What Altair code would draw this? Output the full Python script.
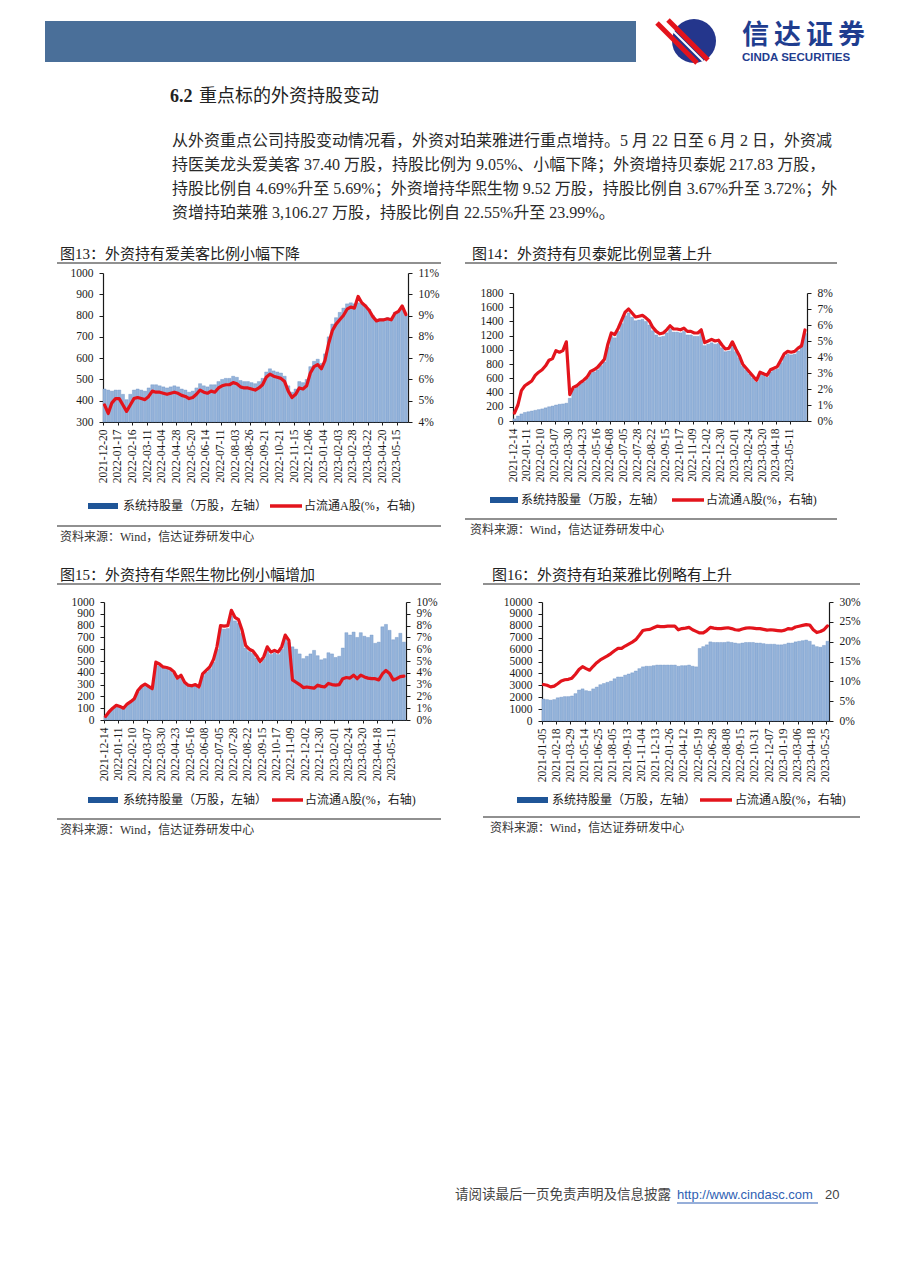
import json
import altair as alt
import pandas as pd

M = 8            # page margin of the html body
W, H = 880, 1215 # whole drawing area


def px(v):
    return v - M


# ---------------------------------------------------------------- data
c13_labels = ["2021-12-20", "2022-01-17", "2022-02-16", "2022-03-11", "2022-04-04", "2022-04-28",
              "2022-05-20", "2022-06-14", "2022-07-11", "2022-08-03", "2022-08-26", "2022-09-21",
              "2022-10-21", "2022-11-15", "2022-12-06", "2023-01-04", "2023-02-03", "2023-02-28",
              "2023-03-22", "2023-04-20", "2023-05-15"]
c13_bar = [455, 450, 445, 450, 450, 430, 405, 430, 450, 455,
           450, 445, 460, 475, 475, 470, 465, 460, 465, 470,
           465, 455, 450, 440, 445, 460, 480, 470, 465, 475,
           475, 490, 500, 505, 505, 515, 510, 495, 490, 490,
           485, 480, 490, 505, 535, 550, 540, 535, 530, 515,
           470, 440, 455, 490, 485, 500, 560, 585, 595, 575,
           620, 700, 760, 790, 815, 835, 855, 860, 855, 860,
           855, 850, 830, 800, 780, 785, 785, 790, 785, 815,
           820, 830, 800]
c13_pct = [4.8, 4.4, 4.9, 5.1, 5.1, 4.8, 4.5, 4.8, 5.1, 5.15,
           5.1, 5.05, 5.2, 5.45, 5.4, 5.4, 5.35, 5.3, 5.35, 5.4,
           5.35, 5.25, 5.2, 5.1, 5.15, 5.3, 5.5, 5.4, 5.35, 5.45,
           5.4, 5.6, 5.7, 5.75, 5.75, 5.85, 5.8, 5.65, 5.6, 5.6,
           5.55, 5.5, 5.6, 5.75, 6.1, 6.25, 6.15, 6.1, 6.05, 5.9,
           5.45, 5.15, 5.3, 5.6, 5.55, 5.7, 6.3, 6.6, 6.7, 6.5,
           6.9, 7.7, 8.3, 8.6, 8.8, 9.0, 9.3, 9.4, 9.35, 9.9,
           9.6, 9.45, 9.25, 8.95, 8.75, 8.8, 8.8, 8.85, 8.8, 9.1,
           9.2, 9.45, 9.05]

c14_labels = ["2021-12-14", "2022-01-11", "2022-02-10", "2022-03-07", "2022-03-30", "2022-04-23",
              "2022-05-16", "2022-06-08", "2022-07-05", "2022-07-28", "2022-08-22", "2022-09-15",
              "2022-10-17", "2022-11-09", "2022-12-02", "2022-12-30", "2023-02-01", "2023-02-24",
              "2023-03-20", "2023-04-18", "2023-05-11"]
c14_bar = [30, 70, 100, 120, 130, 140, 150, 160, 170, 185,
           200, 210, 225, 235, 240, 250, 320, 450, 480, 520,
           550, 600, 670, 690, 720, 780, 830, 1040, 1190, 1170,
           1260, 1370, 1480, 1520, 1460, 1410, 1420, 1430, 1400, 1350,
           1270, 1210, 1180, 1190, 1240, 1290, 1250, 1250, 1240, 1260,
           1210, 1210, 1190, 1190, 1240, 1060, 1080, 1100, 1080, 1090,
           1030, 975, 985, 1070, 975, 890, 770, 715, 660, 605,
           550, 660, 640, 615, 690, 715, 735, 820, 910, 940,
           930, 940, 985, 1080, 1230]
c14_pct = [0.5, 1.0, 1.9, 2.2, 2.35, 2.5, 2.85, 3.05, 3.2, 3.45,
           3.8, 3.9, 4.4, 4.3, 4.4, 4.95, 1.65, 2.1, 2.2, 2.4,
           2.55, 2.75, 3.1, 3.2, 3.35, 3.6, 3.85, 4.8, 5.5, 5.4,
           5.8, 6.3, 6.8, 7.0, 6.75, 6.5, 6.55, 6.6, 6.45, 6.25,
           5.85, 5.6, 5.45, 5.5, 5.7, 5.95, 5.75, 5.75, 5.7, 5.8,
           5.6, 5.6, 5.5, 5.5, 5.7, 4.9, 5.0, 5.1, 5.0, 5.05,
           4.75, 4.5, 4.55, 4.95, 4.5, 4.1, 3.55, 3.3, 3.05, 2.8,
           2.55, 3.05, 2.95, 2.85, 3.2, 3.3, 3.4, 3.8, 4.2, 4.35,
           4.3, 4.35, 4.55, 4.69, 5.69]

c15_labels = list(c14_labels)
c15_bar = [30, 70, 100, 120, 115, 100, 130, 150, 175, 240,
           275, 295, 280, 260, 470, 460, 440, 430, 420, 395,
           345, 370, 310, 285, 280, 290, 270, 375, 405, 435,
           490, 600, 775, 770, 775, 880, 840, 820, 735, 610,
           580, 565, 525, 480, 520, 600, 555, 570, 555, 600,
           695, 655, 620, 600, 560, 520, 540, 560, 590, 545,
           510, 520, 570, 560, 530, 540, 610, 740, 720, 745,
           700, 740, 710, 700, 720, 650, 660, 790, 810, 760,
           680, 700, 735, 660]
c15_pct = [0.3, 0.7, 1.0, 1.25, 1.15, 1.0, 1.35, 1.55, 1.8, 2.5,
           2.85, 3.05, 2.85, 2.65, 4.9, 4.75, 4.5, 4.45, 4.35, 4.1,
           3.55, 3.8, 3.2, 2.95, 2.9, 3.0, 2.8, 3.9, 4.2, 4.5,
           5.1, 6.2, 8.0, 7.95, 8.0, 9.3, 8.7, 8.5, 7.6, 6.3,
           6.0, 5.85, 5.45, 4.95, 5.35, 6.2, 5.75, 5.9, 5.75, 6.2,
           7.2, 6.75, 3.4, 3.2, 3.0, 2.75, 2.8, 2.75, 2.7, 2.95,
           2.85, 2.8, 3.1, 3.0, 2.95, 3.0, 3.5, 3.6, 3.55, 3.8,
           3.5, 3.8, 3.65, 3.55, 3.5, 3.5, 3.4, 3.9, 4.2, 3.95,
           3.4, 3.5, 3.67, 3.72]

c16_labels = ["2021-01-05", "2021-02-18", "2021-03-29", "2021-05-14", "2021-06-25", "2021-08-05",
              "2021-09-13", "2021-11-04", "2021-12-13", "2022-01-26", "2022-04-12", "2022-05-19",
              "2022-06-28", "2022-08-08", "2022-09-15", "2022-10-31", "2022-12-07", "2023-01-19",
              "2023-03-06", "2023-04-18", "2023-05-25"]
c16_bar = [1850, 1800, 1750, 1800, 1950, 2000, 2050, 2050, 2100, 2300,
           2600, 2700, 2550, 2500, 2700, 2850, 3050, 3150, 3250, 3350,
           3550, 3700, 3700, 3850, 3950, 4050, 4200, 4400, 4550, 4600,
           4600, 4650, 4700, 4700, 4700, 4700, 4700, 4700, 4600, 4650,
           4650, 4700, 4600, 4550, 6100, 6250, 6400, 6650, 6600, 6600,
           6600, 6600, 6650, 6600, 6550, 6500, 6550, 6600, 6600, 6600,
           6550, 6550, 6500, 6450, 6450, 6450, 6400, 6400, 6450, 6550,
           6550, 6650, 6700, 6750, 6800, 6700, 6400, 6250, 6200, 6350,
           6700]
c16_pct = [9.2, 9.0, 8.6, 8.8, 9.4, 10.1, 10.4, 10.5, 10.8, 11.8,
           13.0, 13.7, 13.2, 12.8, 13.8, 14.7, 15.4, 15.9, 16.4, 17.0,
           17.7, 18.3, 18.3, 18.9, 19.4, 19.9, 20.5, 21.6, 22.8, 23.0,
           23.1, 23.5, 23.9, 23.8, 23.8, 23.9, 23.9, 23.9, 23.0, 23.3,
           23.4, 23.6, 23.0, 22.6, 22.2, 22.2, 22.8, 23.6, 23.4, 23.3,
           23.3, 23.4, 23.5, 23.3, 23.0, 22.9, 23.2, 23.4, 23.5, 23.4,
           23.3, 23.3, 23.1, 22.9, 23.0, 22.9, 22.8, 22.7, 22.9, 23.3,
           23.2, 23.7, 23.9, 24.1, 24.3, 24.2, 23.0, 22.3, 22.55, 23.0,
           23.99]

# ---------------------------------------------------------------- text
logo_chars = ["信", "达", "证", "券"]
logo_en = "CINDA SECURITIES"
section_no = "6.2"
section_title = "重点标的外资持股变动"
para_lines = [
    "从外资重点公司持股变动情况看，外资对珀莱雅进行重点增持。5 月 22 日至 6 月 2 日，外资减",
    "持医美龙头爱美客 37.40 万股，持股比例为 9.05%、小幅下降；外资增持贝泰妮 217.83 万股，",
    "持股比例自 4.69%升至 5.69%；外资增持华熙生物 9.52 万股，持股比例自 3.67%升至 3.72%；外",
    "资增持珀莱雅 3,106.27 万股，持股比例自 22.55%升至 23.99%。",
]
titles = ["图13：外资持有爱美客比例小幅下降", "图14：外资持有贝泰妮比例显著上升",
          "图15：外资持有华熙生物比例小幅增加", "图16：外资持有珀莱雅比例略有上升"]
legend_bar = "系统持股量（万股，左轴）"
legend_line = "占流通A股(%，右轴)"
source_text = "资料来源：Wind，信达证券研发中心"

# ---------------------------------------------------------------- style
SERIF = "'Liberation Serif', 'Noto Sans CJK SC'"
SANS = "'Liberation Sans', 'Noto Sans CJK SC'"
BAR_FILL = "#94b3da"
BAR_EDGE = "#5f88bf"
RED = "#e3141c"
AXC = "#1a1a1a"
SWATCH = "#1f5597"
RULEC = "#6b6b6b"

one = pd.DataFrame({"k": [0]})


def txt(x, y, s, size=12, color="#222222", font=SERIF, weight="normal", align="left"):
    return alt.Chart(one).mark_text(
        text=s, fontSize=size, color=color, font=font, fontWeight=weight,
        align=align, baseline="middle"
    ).encode(x=alt.value(px(x)), y=alt.value(px(y)))


def seg(x1, y1, x2, y2, color, width):
    return alt.Chart(one).mark_rule(color=color, strokeWidth=width).encode(
        x=alt.value(px(x1)), y=alt.value(px(y1)), x2=alt.value(px(x2)), y2=alt.value(px(y2)))


def panel(bars, pcts, labels, n, ydom, ystep, pdom, pstep, L, R, T, B):
    df_b = pd.DataFrame({"i": list(range(len(bars))), "v": bars})
    df_l = pd.DataFrame({"i": list(range(len(pcts))), "p": pcts})
    xs = alt.Scale(domain=[0, n], range=[px(L), px(R)])
    lab_js = json.dumps(labels)
    xaxis = alt.Axis(
        orient="bottom", offset=px(B) - H, values=list(range(0, 4 * len(labels) - 3, 4)),
        labelExpr=f"{lab_js}[round(datum.value / 4)]", labelAngle=270,
        labelAlign="right", labelBaseline="middle", labelFont=SERIF, labelFontSize=11.5,
        labelColor=AXC, labelPadding=4, labelOverlap=False, labelFlush=False,
        tickSize=3, tickColor=AXC, domainColor=AXC, domainWidth=1.2, grid=False)
    yvals = list(range(ydom[0], ydom[1] + 1, ystep))
    yaxis = alt.Axis(
        orient="left", offset=-px(L), values=yvals, format="d",
        labelFont=SERIF, labelFontSize=11.5, labelColor=AXC, labelPadding=6,
        labelOverlap=False, tickSize=4, tickColor=AXC, domainColor=AXC,
        domainWidth=1.2, grid=False)
    pvals = list(range(pdom[0], pdom[1] + 1, pstep))
    paxis = alt.Axis(
        orient="right", offset=px(R) - W, values=pvals, labelExpr="datum.value + '%'",
        labelFont=SERIF, labelFontSize=11.5, labelColor=AXC, labelPadding=6,
        labelOverlap=False, tickSize=4, tickColor=AXC, domainColor=AXC,
        domainWidth=1.2, grid=False)
    bar = alt.Chart(df_b).transform_calculate(
        x0="datum.i", x1="datum.i + 0.85"
    ).mark_rect(fill=BAR_FILL, stroke=BAR_EDGE, strokeWidth=0.35).encode(
        x=alt.X("x0:Q", scale=xs, axis=xaxis, title=""),
        x2="x1:Q",
        y=alt.Y("v:Q", scale=alt.Scale(domain=list(ydom), range=[px(B), px(T)]),
                axis=yaxis, title=""),
        y2=alt.datum(ydom[0]),
    )
    line = alt.Chart(df_l).transform_calculate(
        xm="datum.i + 0.42"
    ).mark_line(color=RED, strokeWidth=3.2, strokeJoin="round", strokeCap="round").encode(
        x=alt.X("xm:Q", scale=xs, axis=None),
        y=alt.Y("p:Q", scale=alt.Scale(domain=list(pdom), range=[px(B), px(T)]),
                axis=paxis, title=""),
    )
    return [bar, line]


def frame(title, tx, ty, rx1, rx2, ry_top, leg_y, sw1, sw2, t1x, r1, r2, t2x, ry_bot, src_x, src_y):
    return [
        txt(tx, ty, title, size=15, color="#222222"),
        seg(rx1, ry_top, rx2, ry_top, RULEC, 1.5),
        seg(sw1, leg_y, sw2, leg_y, SWATCH, 6),
        txt(t1x, leg_y, legend_bar, size=12, color="#222222"),
        seg(r1, leg_y, r2, leg_y, RED, 3.5),
        txt(t2x, leg_y, legend_line, size=12, color="#222222"),
        seg(rx1, ry_bot, rx2, ry_bot, RULEC, 1.5),
        txt(src_x, src_y, source_text, size=12, color="#333333"),
    ]


layers = []
# header band and logo
layers.append(alt.Chart(one).mark_rect(color="#4a6f99").encode(
    x=alt.value(px(45)), x2=alt.value(px(636)), y=alt.value(px(21)), y2=alt.value(px(62))))
layers.append(alt.Chart(one).mark_point(shape="circle", filled=True, size=1936, color="#24368c",
                                        opacity=1).encode(x=alt.value(px(694)), y=alt.value(px(41))))
layers.append(seg(657, 23, 697, 63, RED, 5))
layers.append(seg(663, 21, 703, 61, "#ffffff", 2))
layers.append(seg(668, 20, 708, 60, RED, 5))
for k, ch in enumerate(logo_chars):
    layers.append(txt(742 + 32 * k, 36, ch, size=27, color="#1f3d8f", font=SANS, weight="bold"))
layers.append(txt(742, 57.5, logo_en, size=11.5, color="#1f3d8f", font=SANS, weight="bold"))

# section title and paragraph
layers.append(txt(170, 97, section_no, size=18, color="#222222", weight="bold"))
layers.append(txt(199, 97, section_title, size=18, color="#222222"))
for k, line_text in enumerate(para_lines):
    layers.append(txt(172, 141 + 24 * k, line_text, size=16, color="#2a2a2a"))

# chart 13
layers += frame(titles[0], 60, 254, 57, 441, 263, 506, 88, 118, 123, 270, 302, 304, 526, 60, 537)
layers += panel(c13_bar, c13_pct, c13_labels, 83, (300, 1000), 100, (4, 11), 1, 103, 408, 273, 422)
# chart 14
layers += frame(titles[1], 472, 254, 465, 837, 263, 500, 490, 518, 521, 672, 704, 706, 519, 470, 530)
layers += panel(c14_bar, c14_pct, c14_labels, 85, (0, 1800), 200, (0, 8), 1, 513, 807, 293, 421)
# chart 15
layers += frame(titles[2], 60, 575, 57, 441, 584, 800, 88, 118, 123, 272, 303, 305, 819, 60, 830)
layers += panel(c15_bar, c15_pct, c15_labels, 84, (0, 1000), 100, (0, 10), 1, 104, 406, 602, 720)
# chart 16
layers += frame(titles[3], 492, 575, 483, 860, 584, 800, 517, 548, 552, 700, 732, 735, 817, 490, 828)
layers += panel(c16_bar, c16_pct, c16_labels, 80.85, (0, 10000), 1000, (0, 30), 5, 542, 829, 602, 721)

# footer
layers.append(txt(455, 1195, "请阅读最后一页免责声明及信息披露", size=13.5, color="#444444"))
layers.append(txt(677, 1195, "http://www.cindasc.com", size=13, color="#2f5fb3", font=SANS))
layers.append(seg(677, 1203, 818, 1203, "#2f5fb3", 1))
layers.append(txt(825, 1195, "20", size=13, color="#444444", font=SANS))

chart = alt.layer(*layers).resolve_scale(
    x="independent", y="independent"
).properties(
    width=W, height=H, padding=0, autosize=alt.AutoSizeParams(type="none")
).configure_view(strokeWidth=0)

chart.save("out.html", embed_options={"renderer": "svg", "actions": False})
